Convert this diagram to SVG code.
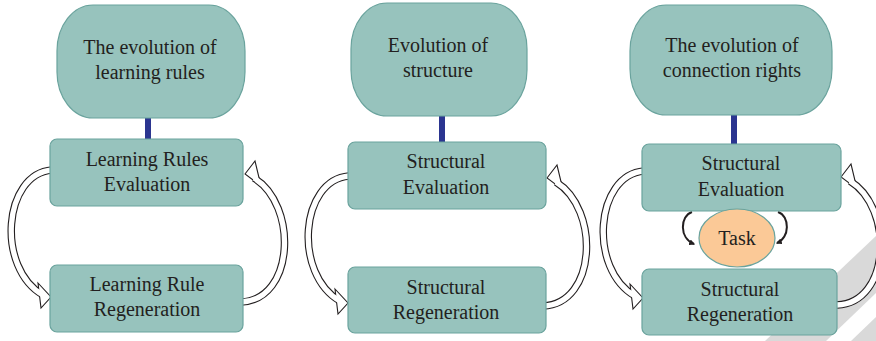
<svg xmlns="http://www.w3.org/2000/svg" width="876" height="341" viewBox="0 0 876 341">
<style>
.top{fill:#97C3BD;stroke:#6AA39D;stroke-width:1.2}
.box{fill:#97C3BD;stroke:#6AA39D;stroke-width:1.2}
.bar{fill:#2B3590}
.t{font-size:20px;fill:#231F20;text-anchor:middle}
.bo{fill:none;stroke:#231F20;stroke-width:7.5}
.bi{fill:none;stroke:#fff;stroke-width:5.3}
.hd{fill:#fff;stroke:#231F20;stroke-width:1.1;stroke-linejoin:miter}
.sm{fill:none;stroke:#231F20;stroke-width:2}
.wm{fill:#D9D9D9}
</style>
<defs>
<marker id="ah" viewBox="0 0 10 10" refX="8" refY="5" markerWidth="6" markerHeight="6" orient="auto" markerUnits="userSpaceOnUse">
<path d="M0,0 L10,5 L0,10 z" fill="#231F20"/>
</marker>
<g id="arrowL">
<path class="bo" d="M52,170 C3,174 -4,268 43,295"/>
<polygon class="hd" points="38,283 51,297 41,308"/>
<path class="bi" d="M52,170 C3,174 -4,268 43,295"/>
</g>
<g id="arrowR">
<path class="bo" d="M241,302 C295,300 298,205 254,178"/>
<polygon class="hd" points="245,174 255,161 261,186"/>
<path class="bi" d="M241,302 C295,300 298,205 254,178"/>
</g>
</defs>
<g id="watermark">
<polygon class="wm" points="765,341 876,236 876,293 826,341"/>
<polygon class="wm" points="851,341 876,317 876,341"/>
</g>
<g id="connectors">
<use href="#arrowL"/>
<use href="#arrowR"/>
<use href="#arrowL" transform="translate(297,6)"/>
<use href="#arrowR" transform="translate(302,4)"/>
<use href="#arrowL" transform="translate(592,1)"/>
<use href="#arrowR" transform="translate(596,3)"/>
<rect class="bar" x="145" y="117" width="6" height="23"/>
<rect class="bar" x="439" y="115" width="6" height="28"/>
<rect class="bar" x="731" y="114" width="6" height="31"/>
<path class="sm" d="M692,212 C680,216 679,238 694,244" marker-end="url(#ah)"/>
<path class="sm" d="M778,212 C790,216 790,238 777,243" marker-end="url(#ah)"/>
</g>
<g font-family="'Liberation Serif', serif">
<g id="n1top">
<rect class="top" x="57" y="5" width="188" height="113" rx="36" ry="46"/>
<text class="t" x="150" y="54">The evolution of</text>
<text class="t" x="150" y="79">learning rules</text>
</g>
<g id="n1eval">
<rect class="box" x="50" y="139" width="193" height="67" rx="7"/>
<text class="t" x="147" y="166">Learning Rules</text>
<text class="t" x="147" y="191">Evaluation</text>
</g>
<g id="n1regen">
<rect class="box" x="50" y="265" width="193" height="67" rx="7"/>
<text class="t" x="147" y="291">Learning Rule</text>
<text class="t" x="147" y="316">Regeneration</text>
</g>
<g id="n2top">
<rect class="top" x="351" y="3" width="176" height="113" rx="36" ry="46"/>
<text class="t" x="438" y="52">Evolution of</text>
<text class="t" x="438" y="77">structure</text>
</g>
<g id="n2eval">
<rect class="box" x="348" y="142" width="198" height="67" rx="7"/>
<text class="t" x="446" y="168">Structural</text>
<text class="t" x="446" y="194">Evaluation</text>
</g>
<g id="n2regen">
<rect class="box" x="348" y="267" width="198" height="66" rx="7"/>
<text class="t" x="446" y="294">Structural</text>
<text class="t" x="446" y="319">Regeneration</text>
</g>
<g id="n3top">
<rect class="top" x="630" y="5" width="202" height="110" rx="36" ry="46"/>
<text class="t" x="732" y="52">The evolution of</text>
<text class="t" x="732" y="77">connection rights</text>
</g>
<g id="n3eval">
<rect class="box" x="642" y="144" width="199" height="67" rx="7"/>
<text class="t" x="741" y="170">Structural</text>
<text class="t" x="741" y="196">Evaluation</text>
</g>
<g id="n3regen">
<rect class="box" x="642" y="269" width="195" height="66" rx="7"/>
<text class="t" x="740" y="296">Structural</text>
<text class="t" x="740" y="321">Regeneration</text>
</g>
<g id="task">
<ellipse cx="737" cy="238" rx="38" ry="29" fill="#FBC997" stroke="#6AA39D" stroke-width="1.2"/>
<text class="t" x="737" y="245">Task</text>
</g>
</g>
</svg>
